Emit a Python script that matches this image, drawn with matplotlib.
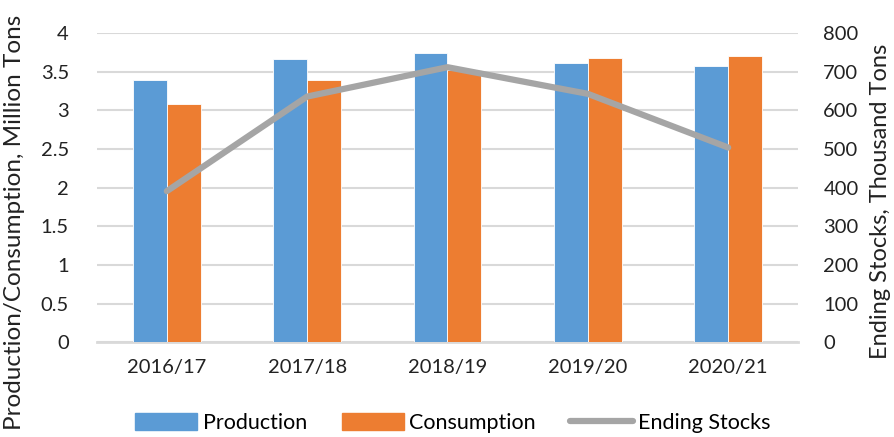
import numpy as np
import matplotlib.pyplot as plt
from matplotlib.lines import Line2D
from matplotlib.patches import Patch

# Marketing years and values
years = ["2016/17", "2017/18", "2018/19", "2019/20", "2020/21"]
production = [3.40, 3.66, 3.74, 3.61, 3.57]      # million tons
consumption = [3.08, 3.39, 3.53, 3.68, 3.71]     # million tons
ending_stocks = [391, 636, 712, 643, 504]        # thousand tons

BLUE = "#5B9BD5"
ORANGE = "#ED7D31"
GRAY = "#A5A5A5"
GRID = "#D9D9D9"

plt.rcParams['font.family'] = ['Lato', 'DejaVu Sans']

fig = plt.figure(figsize=(8.95, 4.37), dpi=100)
ax = fig.add_axes([0.108, 0.217, 0.784, 0.707])
ax2 = ax.twinx()

x = np.arange(len(years))
w = 0.24
ax.bar(x - w / 2, production, w, color=BLUE, edgecolor="white", lw=0.6, zorder=3)
ax.bar(x + w / 2, consumption, w, color=ORANGE, edgecolor="white", lw=0.6, zorder=3)
ax2.plot(x, ending_stocks, color=GRAY, lw=4.5, solid_capstyle="round", zorder=4)

ax.set_xlim(-0.5, len(years) - 0.5)
ax.set_ylim(0, 4)
ax.set_yticks(np.arange(0, 4.01, 0.5))
ax.set_yticklabels(["0", "0.5", "1", "1.5", "2", "2.5", "3", "3.5", "4"])
ax2.set_ylim(0, 800)
ax2.set_yticks(np.arange(0, 801, 100))

ax.grid(axis="y", color=GRID, lw=1.5, zorder=0)
ax.set_axisbelow(True)
for a in (ax, ax2):
    for s in a.spines.values():
        s.set_visible(False)
    a.tick_params(length=0, labelsize=14.5, colors="#222222")
ax.spines["bottom"].set_visible(True)
ax.spines["bottom"].set_color(GRID)
ax.spines["bottom"].set_linewidth(2)
ax.tick_params(axis="y", pad=20)
ax2.tick_params(axis="y", pad=18)
ax.tick_params(axis="x", pad=12)
ax.set_xticks(x)
ax.set_xticklabels(years)

# axis titles placed like the original (left one centred on the figure)
fig.text(0.004, 0.49, "Production/Consumption, Million Tons", rotation=90,
         ha="left", va="center", fontsize=17.5, color="#222222")
fig.text(0.984, 0.54, "Ending Stocks, Thousand Tons", rotation=90,
         ha="center", va="center", fontsize=17, color="#222222")

handles = [Patch(color=BLUE, label="Production"),
           Patch(color=ORANGE, label="Consumption"),
           Line2D([0], [0], color=GRAY, lw=4.5, solid_capstyle="round", label="Ending Stocks")]
fig.legend(handles=handles, loc="lower center", bbox_to_anchor=(0.506, -0.035), ncol=3,
           frameon=False, fontsize=15.5, handlelength=2.9, handleheight=0.85,
           columnspacing=1.6, handletextpad=0.25)

fig.savefig("out.png", dpi=100)
